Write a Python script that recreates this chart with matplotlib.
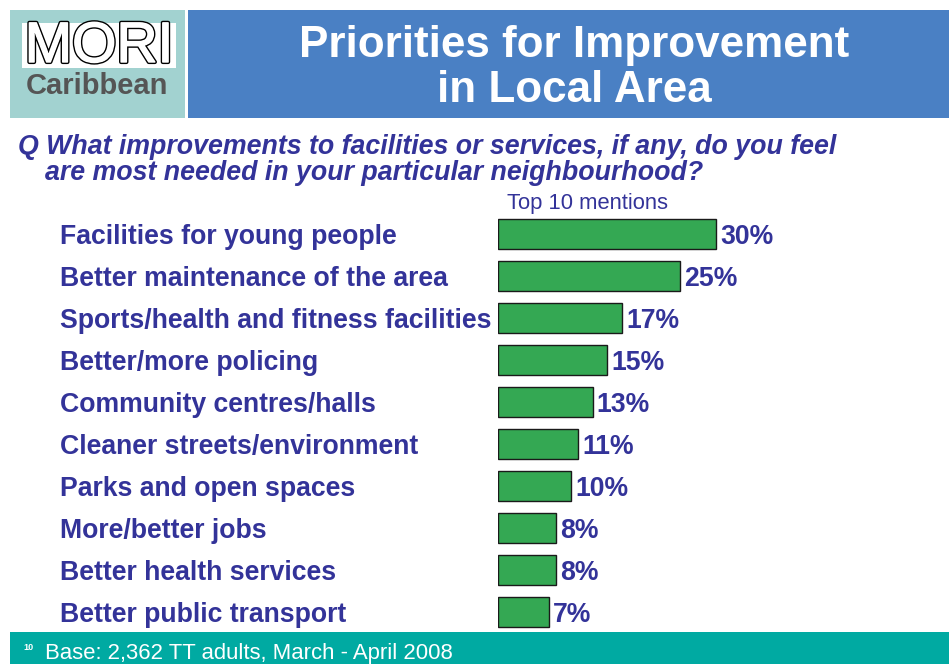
import matplotlib
matplotlib.use("Agg")
import matplotlib.pyplot as plt
import matplotlib.patches as mpatches
import matplotlib.patheffects as pe
from matplotlib.transforms import blended_transform_factory

categories = [
    "Facilities for young people",
    "Better maintenance of the area",
    "Sports/health and fitness facilities",
    "Better/more policing",
    "Community centres/halls",
    "Cleaner streets/environment",
    "Parks and open spaces",
    "More/better jobs",
    "Better health services",
    "Better public transport",
]
values = [30, 25, 17, 15, 13, 11, 10, 8, 8, 7]
value_labels = ["30%", "25%", "17%", "15%", "13%", "11%", "10%", "8%", "8%", "7%"]

title_lines = ["Priorities for Improvement", "in Local Area"]
question_lines = ["Q What improvements to facilities or services, if any, do you feel",
                  "are most needed in your particular neighbourhood?"]
subtitle = "Top 10 mentions"
footer = "Base: 2,362 TT adults, March - April 2008"
page_no = "10"

W, H = 949, 664
NAVY = "#333399"
GREEN = "#34a853"

plt.rcParams['font.family'] = ['Liberation Sans', 'DejaVu Sans']

fig = plt.figure(figsize=(W / 100, H / 100), dpi=100)
fig.patch.set_facecolor("white")

def px(x, y):
    return x / W, 1 - y / H

def rect(x0, y0, x1, y1, color, **kw):
    fig.patches.append(mpatches.Rectangle(px(x0, y1), (x1 - x0) / W, (y1 - y0) / H,
                                          transform=fig.transFigure, facecolor=color,
                                          edgecolor="none", **kw))

# header boxes
rect(10, 10, 185, 118, "#a2d2d0")
rect(188, 10, 949, 118, "#4a80c4")
rect(22, 23, 176, 68, "white")
rect(10, 632, 949, 664, "#00aaa2")

fig.text(*px(99, 47), "MORI", ha="center", va="center", fontsize=41, color="white",
         fontweight="normal",
         path_effects=[pe.Stroke(linewidth=3.0, foreground="black"),
                       pe.Stroke(linewidth=1.0, foreground="white"), pe.Normal()])
fig.text(*px(97, 86), "Caribbean", ha="center", va="center", fontsize=21,
         color="#555555", fontweight="bold")

fig.text(*px(574, 45), title_lines[0], ha="center", va="center", fontsize=31.7,
         color="white", fontweight="bold")
fig.text(*px(574, 91), title_lines[1], ha="center", va="center", fontsize=31.7,
         color="white", fontweight="bold")

fig.text(*px(18, 147), question_lines[0], ha="left", va="center", fontsize=19.3,
         color=NAVY, fontweight="bold", style="italic")
fig.text(*px(45, 173), question_lines[1], ha="left", va="center", fontsize=19.3,
         color=NAVY, fontweight="bold", style="italic")

fig.text(*px(507, 203), subtitle, ha="left", va="center", fontsize=15.8, color=NAVY)

fig.text(*px(23, 648), page_no, ha="left", va="center", fontsize=6.5,
         color="white", fontweight="bold")
fig.text(*px(45, 653), footer, ha="left", va="center", fontsize=15.9, color="white")

# bar axes
left, right = 498, 900
top, bottom = 213, 633
ax = fig.add_axes([left / W, 1 - bottom / H, (right - left) / W, (bottom - top) / H])
ppp = 7.27  # pixels per percent
ax.set_xlim(0, (right - left) / ppp)
ax.set_ylim(len(categories) - 0.5, -0.5)
ax.axis("off")

ypos = list(range(len(categories)))
ax.barh(ypos, values, height=0.72, color=GREEN, edgecolor="#1a1a1a", linewidth=1.0)

for y, v, lab in zip(ypos, values, value_labels):
    ax.text(v + 0.6, y + 0.07, lab, ha="left", va="center", fontsize=19.2,
            color=NAVY, fontweight="bold")

tr = blended_transform_factory(fig.transFigure, ax.transData)
for y, c in zip(ypos, categories):
    ax.text(60 / W, y + 0.07, c, transform=tr, ha="left", va="center",
            fontsize=19.2, color=NAVY, fontweight="bold")

fig.savefig("out.png", dpi=100)
